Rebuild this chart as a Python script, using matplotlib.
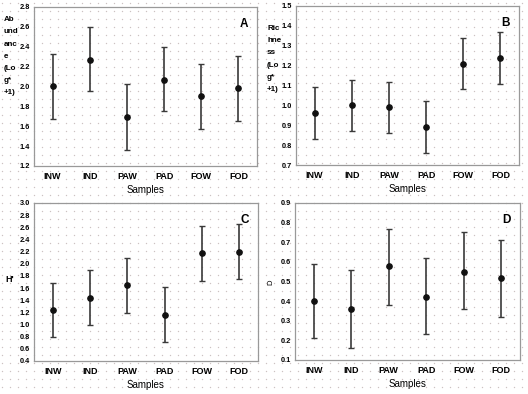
import numpy as np
import matplotlib
matplotlib.use("Agg")
import matplotlib.pyplot as plt

plt.rcParams['font.family'] = ['Liberation Sans', 'DejaVu Sans']

samples = ['INW', 'IND', 'PAW', 'PAD', 'FOW', 'FOD']

# panel A - abundance log(x+1)
abund_mean = [2.00, 2.27, 1.69, 2.07, 1.90, 1.98]
abund_low = [1.67, 1.95, 1.36, 1.75, 1.57, 1.65]
abund_high = [2.33, 2.60, 2.02, 2.40, 2.23, 2.31]

# panel B - richness log(x+1)
rich_mean = [0.96, 1.00, 0.99, 0.89, 1.21, 1.24]
rich_low = [0.83, 0.87, 0.86, 0.76, 1.08, 1.11]
rich_high = [1.09, 1.13, 1.12, 1.02, 1.34, 1.37]

# panel C - H'
h_mean = [1.24, 1.44, 1.65, 1.16, 2.17, 2.20]
h_low = [0.80, 0.99, 1.19, 0.72, 1.72, 1.75]
h_high = [1.69, 1.90, 2.09, 1.61, 2.62, 2.65]

# panel D - D
d_mean = [0.40, 0.36, 0.58, 0.42, 0.55, 0.52]
d_low = [0.21, 0.16, 0.38, 0.23, 0.36, 0.32]
d_high = [0.59, 0.56, 0.77, 0.62, 0.75, 0.71]

panels = [
    ('A', abund_mean, abund_low, abund_high, (1.2, 2.8), np.arange(1.2, 2.81, 0.2),
     [0.0644, 0.5787, 0.4223, 0.4036]),
    ('B', rich_mean, rich_low, rich_high, (0.7, 1.5), np.arange(0.7, 1.51, 0.1),
     [0.5606, 0.5812, 0.4223, 0.4036]),
    ('C', h_mean, h_low, h_high, (0.4, 3.0), np.arange(0.4, 3.01, 0.2),
     [0.0644, 0.0838, 0.4242, 0.4010]),
    ('D', d_mean, d_low, d_high, (0.1, 0.9), np.arange(0.1, 0.91, 0.1),
     [0.5587, 0.0863, 0.4261, 0.3985]),
]

fig = plt.figure(figsize=(5.28, 3.94), dpi=100)

# dotted paper background
bg = fig.add_axes([0, 0, 1, 1], zorder=-10)
gx, gy = np.meshgrid(np.arange(2, 528, 8), np.arange(3, 394, 8))
bg.scatter(gx.ravel(), gy.ravel(), s=1.0, c='#cdc2c2', linewidths=0)
bg.set_xlim(0, 528)
bg.set_ylim(394, 0)
bg.axis('off')

x = np.arange(len(samples))
for letter, mean, low, high, ylim, ticks, pos in panels:
    ax = fig.add_axes(pos)
    ax.set_facecolor('none')
    mean = np.array(mean)
    yerr = [mean - np.array(low), np.array(high) - mean]
    ax.errorbar(x, mean, yerr=yerr, fmt='o', color='#111111', ms=3.8,
                ecolor='#3a3a3a', elinewidth=1.2, capsize=2, capthick=1)
    ax.set_xlim(-0.5, 5.5)
    ax.set_ylim(*ylim)
    ax.set_yticks(ticks)
    ax.set_yticklabels(['%.1f' % t for t in ticks], fontsize=5.3, fontweight='bold')
    ax.set_xticks(x)
    ax.set_xticklabels(samples, fontsize=6.5, fontweight='bold')
    ax.tick_params(length=0, pad=3)
    ax.tick_params(axis='x', pad=4)
    for sp in ax.spines.values():
        sp.set_color('#999999')
        sp.set_linewidth(0.9)
    ax.set_xlabel('Samples', fontsize=7, labelpad=3)
    ax.text(0.96, 0.93, letter, transform=ax.transAxes, ha='right', va='top',
            fontsize=8.5, fontweight='bold')

# y axis labels, wrapped like the original
fig.text(4 / 528, 1 - 16 / 394, 'Ab\nund\nanc\ne\n(Lo\ng*\n+1)', ha='left', va='top',
         fontsize=5.8, fontweight='bold', linespacing=2.05)
fig.text(267 / 528, 1 - 25 / 394, 'Ric\nhne\nss\n(Lo\ng*\n+1)', ha='left', va='top',
         fontsize=5.8, fontweight='bold', linespacing=2.05)
fig.text(5 / 528, 1 - 279 / 394, "H'", ha='left', va='center',
         fontsize=6.5, fontweight='bold')
fig.text(271 / 528, 1 - 282 / 394, 'D', ha='center', va='center', rotation=90,
         fontsize=5.5)

fig.savefig('out.png', dpi=100)
